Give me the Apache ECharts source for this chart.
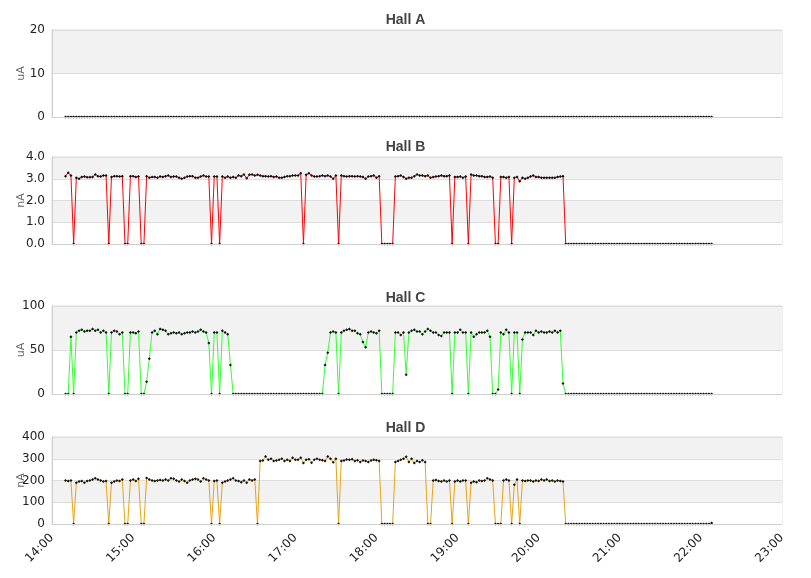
<!DOCTYPE html>
<html>
<head>
<meta charset="utf-8">
<script src="https://cdn.jsdelivr.net/npm/echarts@6/dist/echarts.min.js"></script>
<style>html,body{margin:0;padding:0;background:#fff}#main{width:811px;height:578px}</style>
</head>
<body>
<div id="main"></div>
<script>
// sample times: minutes after midnight, one reading every 2 minutes from 14:10
var startMin=850, stepMin=2, count=240;
var times=[];
for(var i=0;i<count;i++) times.push(startMin+i*stepMin);

var hallA=[
  0,0,0,0,0,0,0,0,0,0,0,0,0,0,0,0,0,0,0,0,
  0,0,0,0,0,0,0,0,0,0,0,0,0,0,0,0,0,0,0,0,
  0,0,0,0,0,0,0,0,0,0,0,0,0,0,0,0,0,0,0,0,
  0,0,0,0,0,0,0,0,0,0,0,0,0,0,0,0,0,0,0,0,
  0,0,0,0,0,0,0,0,0,0,0,0,0,0,0,0,0,0,0,0,
  0,0,0,0,0,0,0,0,0,0,0,0,0,0,0,0,0,0,0,0,
  0,0,0,0,0,0,0,0,0,0,0,0,0,0,0,0,0,0,0,0,
  0,0,0,0,0,0,0,0,0,0,0,0,0,0,0,0,0,0,0,0,
  0,0,0,0,0,0,0,0,0,0,0,0,0,0,0,0,0,0,0,0,
  0,0,0,0,0,0,0,0,0,0,0,0,0,0,0,0,0,0,0,0,
  0,0,0,0,0,0,0,0,0,0,0,0,0,0,0,0,0,0,0,0,
  0,0,0,0,0,0,0,0,0,0,0,0,0,0,0,0,0,0,0,0
];
var hallB=[
  3.12,3.28,3.15,0,3.05,3.0,3.08,3.1,3.07,3.07,3.08,3.2,3.12,3.1,3.15,3.15,0,3.08,3.12,3.12,
  3.1,3.12,0,0,3.12,3.12,3.08,3.1,0,0,3.12,3.05,3.08,3.08,3.05,3.1,3.08,3.12,3.15,3.08,
  3.1,3.1,3.05,3.0,3.05,3.1,3.12,3.12,3.05,3.05,3.1,3.15,3.1,3.1,0,3.1,3.1,0,3.1,3.05,
  3.1,3.05,3.08,3.05,3.15,3.12,3.2,3.02,3.18,3.2,3.15,3.18,3.15,3.12,3.12,3.1,3.12,3.08,3.1,3.05,
  3.05,3.08,3.12,3.12,3.15,3.15,3.15,3.25,0,3.18,3.25,3.15,3.1,3.1,3.12,3.15,3.12,3.15,3.1,3.0,
  3.15,0,3.15,3.12,3.1,3.12,3.12,3.1,3.12,3.1,3.08,3.0,3.1,3.12,3.15,3.05,3.12,0,0,0,
  0,0,3.1,3.12,3.15,3.08,3.0,3.05,3.05,3.12,3.2,3.15,3.15,3.12,3.15,3.05,3.08,3.1,3.12,3.15,
  3.12,3.12,3.15,0,3.08,3.08,3.1,3.05,3.1,0,3.2,3.15,3.15,3.12,3.12,3.08,3.08,3.1,3.05,0,
  0,3.08,3.08,3.05,3.08,0,3.05,3.08,2.88,3.05,3.0,3.05,3.1,3.15,3.08,3.08,3.05,3.05,3.05,3.05,
  3.05,3.05,3.08,3.1,3.12,0,0,0,0,0,0,0,0,0,0,0,0,0,0,0,
  0,0,0,0,0,0,0,0,0,0,0,0,0,0,0,0,0,0,0,0,
  0,0,0,0,0,0,0,0,0,0,0,0,0,0,0,0,0,0,0,0
];
var hallC=[
  0,0,65,0,70,72,73,71,72,72,74,72,73,70,72,70,0,70,72,71,
  68,70,0,0,70,70,69,71,0,0,14,40,70,72,68,74,73,72,68,69,
  70,69,70,68,69,70,70,71,70,71,73,71,70,58,0,70,70,0,72,70,
  68,33,0,0,0,0,0,0,0,0,0,0,0,0,0,0,0,0,0,0,
  0,0,0,0,0,0,0,0,0,0,0,0,0,0,0,0,33,47,70,71,
  70,0,70,72,73,74,72,72,69,68,59,53,70,71,70,69,72,0,0,0,
  0,0,70,70,67,70,22,70,72,73,71,71,68,71,74,72,70,70,67,66,
  70,70,70,0,70,70,73,70,70,0,70,65,68,70,70,70,72,65,0,0,
  5,70,68,73,70,0,70,70,0,62,70,70,70,67,72,70,71,70,70,71,
  70,72,70,72,12,0,0,0,0,0,0,0,0,0,0,0,0,0,0,0,
  0,0,0,0,0,0,0,0,0,0,0,0,0,0,0,0,0,0,0,0,
  0,0,0,0,0,0,0,0,0,0,0,0,0,0,0,0,0,0,0,0
];
var hallD=[
  200,198,200,0,190,195,198,190,198,200,205,210,205,200,195,198,0,190,195,200,
  198,205,0,0,200,205,198,208,0,0,212,205,200,198,200,202,200,205,200,210,
  208,200,195,205,198,190,200,205,208,205,195,210,205,200,0,198,200,0,190,195,
  200,205,210,200,198,192,200,190,205,200,205,0,290,292,310,295,300,290,292,295,
  300,290,295,290,305,295,295,305,280,295,298,282,295,300,295,293,290,310,300,284,
  300,0,290,292,297,295,298,290,293,285,292,290,285,292,295,293,290,0,0,0,
  0,0,285,290,295,300,309,285,300,280,290,285,293,285,0,0,200,202,198,195,
  200,195,200,0,195,200,195,200,200,0,190,195,192,200,198,200,210,205,200,0,
  0,0,200,205,200,0,180,205,0,200,198,200,200,195,200,198,205,200,205,198,
  200,195,200,198,195,0,0,0,0,0,0,0,0,0,0,0,0,0,0,0,
  0,0,0,0,0,0,0,0,0,0,0,0,0,0,0,0,0,0,0,0,
  0,0,0,0,0,0,0,0,0,0,0,0,0,0,0,0,0,0,0,5
];

var titles=['Hall A','Hall B','Hall C','Hall D'];
var units=['uA','nA','uA','nA'];
var yMax=[20,4,100,400];
var yStep=[10,1,50,100];
var colors=['#333333','#ff0000','#33ff33','#e8a317'];
var values=[hallA,hallB,hallC,hallD];

var gridTop=[30,157,306,437];
var gridH=[87,87,88,87];
var titleTop=[8,135,286,416];

function pad(n){return n<10?'0'+n:''+n;}
function pairs(v){var out=[];for(var i=0;i<v.length;i++) out.push([times[i],v[i]]);return out;}

var font='DejaVu Sans';
var option={
  animation:false,
  textStyle:{fontFamily:font},
  title:[],grid:[],xAxis:[],yAxis:[],series:[]
};
for(var k=0;k<4;k++){
  option.title.push({text:titles[k],left:'center',top:titleTop[k],
    textStyle:{fontFamily:'Liberation Sans',fontSize:14,fontWeight:'bold',color:'#444'}});
  option.grid.push({left:52,right:29,top:gridTop[k],height:gridH[k],
    outerBoundsMode:'none',containLabel:false,
    show:true,borderColor:'#ddd',borderWidth:1,backgroundColor:'transparent'});
  var last=(k==3);
  option.xAxis.push({type:'value',gridIndex:k,min:840,max:1380,interval:60,z:5,
    axisLine:{show:true,lineStyle:{color:'#d0d0d0',width:1}},
    axisTick:{show:false},splitLine:{show:false},
    axisLabel:{show:last,rotate:45,fontSize:12,color:'#222',fontFamily:font,margin:12,
      formatter:function(v){return Math.floor(v/60)+':'+pad(v%60);}}});
  option.yAxis.push({type:'value',gridIndex:k,min:0,max:yMax[k],interval:yStep[k],
    name:units[k],nameLocation:'middle',nameGap:25,nameMoveOverlap:false,
    nameTextStyle:{color:'#666',fontSize:11,fontFamily:font},
    axisLine:{show:true,lineStyle:{color:'#d0d0d0'}},axisTick:{show:false},
    axisLabel:{fontSize:12,color:'#222',fontFamily:font,margin:7,
      formatter:(k==1)?function(v){return v.toFixed(1);}:null},
    splitLine:{lineStyle:{color:'#ddd'}},
    splitArea:{show:true,areaStyle:{color:['#ffffff','#f2f2f2']}}});
  option.series.push({type:'line',name:titles[k],xAxisIndex:k,yAxisIndex:k,
    data:pairs(values[k]),showAllSymbol:true,symbol:'diamond',symbolSize:3,
    itemStyle:{color:'#111'},lineStyle:{color:colors[k],width:1}});
}

var myChart=echarts.init(document.getElementById('main'));
myChart.setOption(option);
</script>
</body>
</html>
